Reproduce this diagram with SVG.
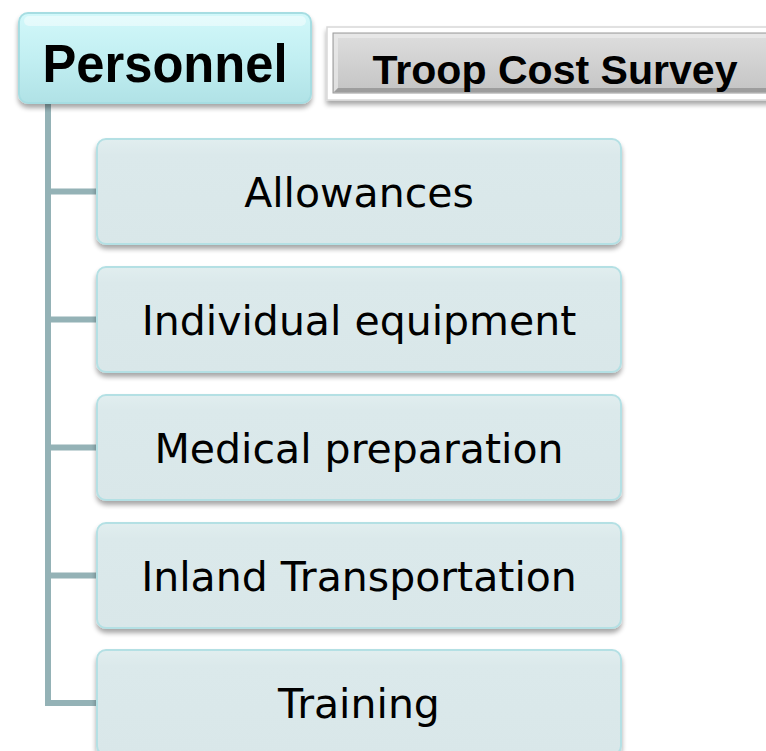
<svg xmlns="http://www.w3.org/2000/svg" width="766" height="751" viewBox="0 0 766 751">
<defs>
<linearGradient id="gHead" x1="0" y1="0" x2="0" y2="1">
<stop offset="0" stop-color="#d2f8fa"/>
<stop offset="0.5" stop-color="#c2eff2"/>
<stop offset="1" stop-color="#b0e2e6"/>
</linearGradient>
<linearGradient id="gGray" x1="0" y1="0" x2="0" y2="1">
<stop offset="0" stop-color="#dedede"/>
<stop offset="1" stop-color="#c4c4c4"/>
</linearGradient>
<linearGradient id="gChild" x1="0" y1="0" x2="0" y2="1">
<stop offset="0" stop-color="#e1eeef"/>
<stop offset="0.15" stop-color="#dbe9eb"/>
<stop offset="1" stop-color="#d9e7e9"/>
</linearGradient>
<filter id="sh" x="-5%" y="-10%" width="110%" height="130%">
<feGaussianBlur in="SourceAlpha" stdDeviation="2.5"/>
<feOffset dx="0" dy="4" result="b"/>
<feComponentTransfer><feFuncA type="linear" slope="0.35"/></feComponentTransfer>
<feMerge><feMergeNode/><feMergeNode in="SourceGraphic"/></feMerge>
</filter>
</defs>
<style>
.child rect.box{fill:url(#gChild);stroke:#b4e0e4;stroke-width:2;filter:url(#sh)}
.child text{font-family:"DejaVu Sans",sans-serif;font-size:41px;fill:#000;text-anchor:middle}
.conn{stroke:#94b2b6;stroke-width:6;fill:none}
</style>
<g id="connectors">
<path class="conn" d="M48,103 V703 H100"/>
<path class="conn" d="M48,191.5 H100 M48,319.5 H100 M48,447.5 H100 M48,575.5 H100"/>
</g>
<g id="header">
<rect x="19" y="13" width="292" height="90" rx="9" fill="url(#gHead)" stroke="#a6dde2" stroke-width="2" filter="url(#sh)"/>
<rect x="24" y="16" width="282" height="10" rx="5" fill="#ffffff" opacity="0.45"/>
<text x="165" y="82" font-family="Liberation Sans, Arial, sans-serif" font-weight="bold" font-size="54" text-anchor="middle" textLength="245" lengthAdjust="spacingAndGlyphs">Personnel</text>
</g>
<g id="title">
<rect x="327" y="27" width="450" height="73" fill="#ffffff" stroke="#d8d8d8" stroke-width="1.5" filter="url(#sh)"/>
<rect x="333" y="33" width="440" height="60" fill="url(#gGray)" stroke="#9a9a9a" stroke-width="1"/>
<path d="M334,34 H772 L767,38 H338 V88 L334,92 Z" fill="#ebebeb" opacity="0.7"/>
<path d="M334,92 L338,88 H772 V92 Z" fill="#8c8c8c" opacity="0.7"/>
<text x="555" y="84" font-family="Liberation Sans, Arial, sans-serif" font-weight="bold" font-size="40" text-anchor="middle" textLength="365" lengthAdjust="spacingAndGlyphs">Troop Cost Survey</text>
</g>
<g id="allowances" class="child">
<rect class="box" x="97" y="139" width="524" height="105" rx="9"/>
<text x="359" y="207">Allowances</text>
</g>
<g id="individual-equipment" class="child">
<rect class="box" x="97" y="267" width="524" height="105" rx="9"/>
<text x="359" y="335">Individual equipment</text>
</g>
<g id="medical-preparation" class="child">
<rect class="box" x="97" y="395" width="524" height="105" rx="9"/>
<text x="359" y="463">Medical preparation</text>
</g>
<g id="inland-transportation" class="child">
<rect class="box" x="97" y="523" width="524" height="105" rx="9"/>
<text x="359" y="591">Inland Transportation</text>
</g>
<g id="training" class="child">
<rect class="box" x="97" y="650" width="524" height="105" rx="9"/>
<text x="359" y="718">Training</text>
</g>
</svg>
